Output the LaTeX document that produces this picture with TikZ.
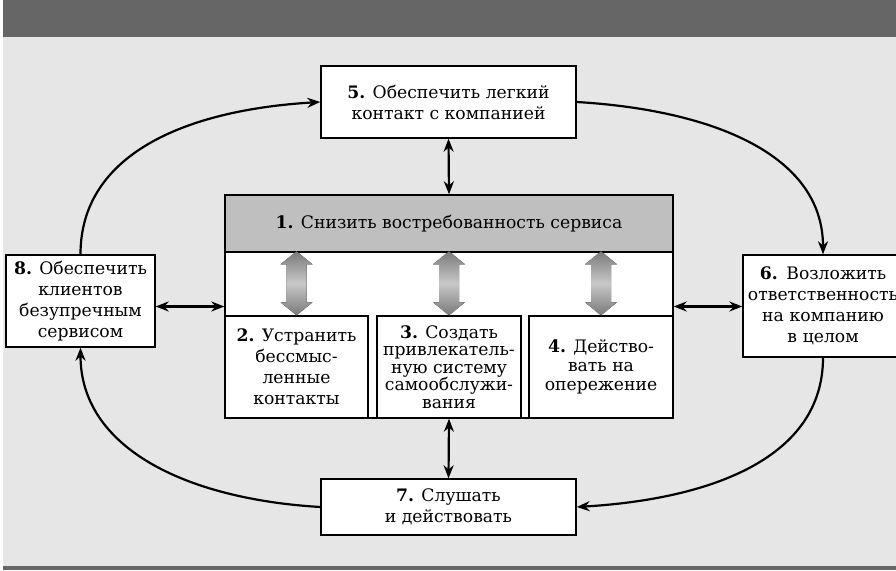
\documentclass[tikz,border=0pt]{standalone}
\usepackage{fontspec}
\setmainfont{DejaVu Serif}
\usetikzlibrary{arrows.meta,positioning}
\definecolor{bardark}{HTML}{666666}
\definecolor{bglight}{HTML}{E6E6E6}
\definecolor{headgray}{HTML}{BFBFBF}
\definecolor{arrowdark}{HTML}{7A7A7A}
\definecolor{arrowlight}{HTML}{C8C8C8}
\begin{document}
\begin{tikzpicture}[x=1pt,y=1pt,>={Stealth[length=13pt,width=10pt]},
  box/.style={draw,line width=1.4pt,fill=white,align=center,inner sep=0pt,
    font=\fontsize{17.2}{21}\selectfont},
  link/.style={line width=2.2pt},
  gradarrow/.style={top color=arrowdark,bottom color=arrowdark,middle color=arrowlight}]
\useasboundingbox (0,0) rectangle (896,570);
\clip (0,0) rectangle (896,570);
% background and bars
\fill[bglight] (3,4) rectangle (896,533);
\fill[bardark] (3,533) rectangle (896,570);
\fill[bardark] (3,0) rectangle (896,4);
% central block
\node[box,minimum width=448,minimum height=223] (outer) at (449,263.5) {};
\node[box,fill=headgray,minimum width=448,minimum height=57,anchor=north] (head) at (outer.north)
  {\textbf{1.} Снизить востребованность сервиса};
\node[box,minimum width=143,minimum height=102,anchor=south west] (b2) at (outer.south west)
  {\textbf{2.} Устранить\\бессмыс-\\ленные\\контакты};
\node[box,minimum width=144,minimum height=102,anchor=south,
  font=\fontsize{17.2}{17.5}\selectfont] (b3) at (outer.south)
  {\textbf{3.} Создать\\привлекатель-\\ную систему\\самообслужи-\\вания};
\node[box,minimum width=144,minimum height=102,anchor=south east,
  font=\fontsize{17.2}{19}\selectfont] (b4) at (outer.south east)
  {\textbf{4.} Действо-\\вать на\\опережение};
\foreach \b in {b2,b3,b4}
  \fill[gradarrow] (\b.north) -- ++(16,13) -- ++(-6,0) -- ++(0,38) -- ++(6,0) -- ++(-16,13)
    -- ++(-16,-13) -- ++(6,0) -- ++(0,-38) -- ++(-6,0) -- cycle;
% outer boxes
\node[box,minimum width=255,minimum height=72] (b5) at (448.5,468)
  {\textbf{5.} Обеспечить легкий\\контакт с компанией};
\node[box,minimum width=160,minimum height=102,text width=156] (b6) at (823,264)
  {\textbf{6.} Возложить\\ответственность\\на компанию\\в целом};
\node[box,minimum width=255,minimum height=56] (b7) at (448.5,63)
  {\textbf{7.} Слушать\\и действовать};
\node[box,minimum width=149,minimum height=92] (b8) at (80.5,269)
  {\textbf{8.} Обеспечить\\клиентов\\безупречным\\сервисом};
% links
\draw[link,<->] (b5.south) -- (head.north);
\draw[link,<->] (b3.south) -- (b7.north);
\draw[link,<->] (b8.east |- outer.west) -- (outer.west);
\draw[link,<->] (b6.west |- outer.east) -- (outer.east);
\draw[link,->] (b8.north) .. controls +(0,100) and +(-135,-8) .. (b5.west);
\draw[link,->] (b5.east) .. controls +(135,-8) and +(0,100) .. (b6.north);
\draw[link,->] (b6.south) .. controls +(0,-100) and +(135,8) .. (b7.east);
\draw[link,->] (b7.west) .. controls +(-135,8) and +(0,-100) .. (b8.south);
\end{tikzpicture}
\end{document}
